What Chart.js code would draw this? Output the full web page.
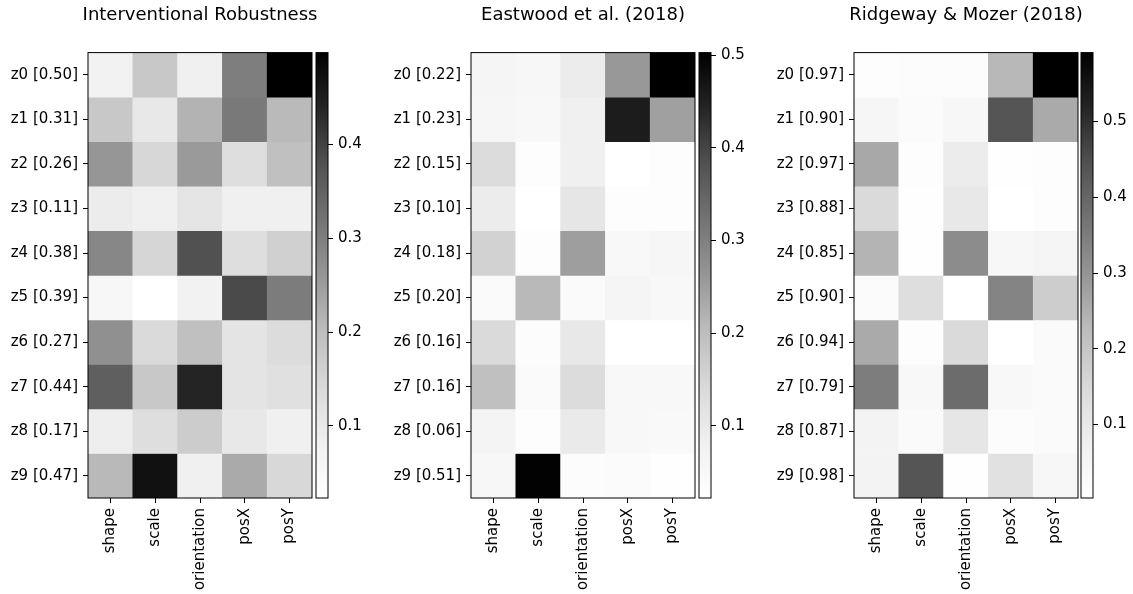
<!DOCTYPE html>
<html>
<head>
<meta charset="utf-8">
<script src="https://cdn.jsdelivr.net/npm/chart.js@4.4.0/dist/chart.umd.min.js"></script>
<style>
  html, body { margin: 0; padding: 0; background: #fff; overflow: hidden; }
  #wrap { position: relative; width: 1133px; height: 594px; }
  canvas { position: absolute; top: 0; }
</style>
</head>
<body>
<div id="wrap">
  <canvas id="heat1" width="400" height="594" style="left:0px"></canvas>
  <canvas id="heat2" width="400" height="594" style="left:383px"></canvas>
  <canvas id="heat3" width="400" height="594" style="left:766px"></canvas>
  <canvas id="bar1" width="70" height="594" style="left:310px"></canvas>
  <canvas id="bar2" width="70" height="594" style="left:693px"></canvas>
  <canvas id="bar3" width="70" height="594" style="left:1075px"></canvas>
</div>
<script>
// factors on the x axis (same for all three panels)
const factors = ['shape', 'scale', 'orientation', 'posX', 'posY']

// Interventional Robustness
const irTitle = 'Interventional Robustness'
const irRows = ['z0 [0.50]', 'z1 [0.31]', 'z2 [0.26]', 'z3 [0.11]', 'z4 [0.38]', 'z5 [0.39]', 'z6 [0.27]', 'z7 [0.44]', 'z8 [0.17]', 'z9 [0.47]']
const irValues = [
  [0.074, 0.177, 0.082, 0.302, 0.498],
  [0.177, 0.102, 0.217, 0.310, 0.205],
  [0.260, 0.146, 0.255, 0.129, 0.195],
  [0.092, 0.082, 0.110, 0.082, 0.082],
  [0.286, 0.148, 0.380, 0.129, 0.160],
  [0.054, 0.023, 0.074, 0.390, 0.305],
  [0.270, 0.139, 0.195, 0.113, 0.134],
  [0.355, 0.177, 0.440, 0.113, 0.123],
  [0.087, 0.129, 0.170, 0.102, 0.082],
  [0.207, 0.470, 0.082, 0.230, 0.143]
]
const irTicks = [0.1, 0.2, 0.3, 0.4]

// Eastwood et al. (2018)
const ewTitle = 'Eastwood et al. (2018)'
const ewRows = ['z0 [0.22]', 'z1 [0.23]', 'z2 [0.15]', 'z3 [0.10]', 'z4 [0.18]', 'z5 [0.20]', 'z6 [0.16]', 'z7 [0.16]', 'z8 [0.06]', 'z9 [0.51]']
const ewValues = [
  [0.062, 0.054, 0.092, 0.259, 0.503],
  [0.058, 0.050, 0.082, 0.457, 0.247],
  [0.134, 0.030, 0.082, 0.022, 0.030],
  [0.092, 0.022, 0.108, 0.030, 0.030],
  [0.157, 0.030, 0.250, 0.050, 0.058],
  [0.042, 0.208, 0.042, 0.062, 0.050],
  [0.139, 0.034, 0.102, 0.022, 0.022],
  [0.196, 0.042, 0.134, 0.050, 0.050],
  [0.066, 0.030, 0.097, 0.050, 0.046],
  [0.054, 0.500, 0.034, 0.038, 0.026]
]
const ewTicks = [0.1, 0.2, 0.3, 0.4, 0.5]

// Ridgeway & Mozer (2018)
const rmTitle = 'Ridgeway & Mozer (2018)'
const rmRows = ['z0 [0.97]', 'z1 [0.90]', 'z2 [0.97]', 'z3 [0.88]', 'z4 [0.85]', 'z5 [0.90]', 'z6 [0.94]', 'z7 [0.79]', 'z8 [0.87]', 'z9 [0.98]']
const rmValues = [
  [0.013, 0.018, 0.018, 0.232, 0.591],
  [0.047, 0.023, 0.043, 0.438, 0.260],
  [0.263, 0.013, 0.090, 0.008, 0.013],
  [0.147, 0.008, 0.102, 0.003, 0.013],
  [0.241, 0.008, 0.318, 0.043, 0.052],
  [0.023, 0.134, 0.003, 0.335, 0.182],
  [0.260, 0.013, 0.147, 0.003, 0.028],
  [0.350, 0.038, 0.387, 0.038, 0.028],
  [0.062, 0.028, 0.109, 0.018, 0.028],
  [0.062, 0.438, 0.008, 0.125, 0.043]
]
const rmTicks = [0.1, 0.2, 0.3, 0.4, 0.5]

const FONT = 'DejaVu Sans'
const TOP = 52.6
const BOTTOM = 96
const SIDE = 88

// matplotlib "Greys" colormap, white -> black
const greysStops = [255, 240, 217, 189, 150, 115, 82, 37, 0]
function greys (t) {
  t = Math.min(Math.max(t, 0), 1) * (greysStops.length - 1)
  const i = Math.min(Math.floor(t), greysStops.length - 2)
  const g = Math.round(greysStops[i] + (greysStops[i + 1] - greysStops[i]) * (t - i))
  return 'rgb(' + g + ',' + g + ',' + g + ')'
}

// black outline round the plot area
const frame = {
  id: 'frame',
  afterDraw (chart) {
    const { ctx, chartArea: a } = chart
    ctx.save()
    ctx.strokeStyle = '#000'
    ctx.lineWidth = 1
    ctx.strokeRect(a.left, a.top, a.width, a.height)
    ctx.restore()
  }
}

Chart.defaults.font.family = FONT
Chart.defaults.color = '#000'

function heatmap (id, title, rows, values) {
  const flat = values.flat()
  const lo = Math.min(...flat)
  const hi = Math.max(...flat)
  const datasets = values.map((row, r) => ({
    data: row.map(() => [r, r + 1]),
    backgroundColor: row.map(v => greys((v - lo) / (hi - lo))),
    borderWidth: 0,
    barPercentage: 1,
    categoryPercentage: 1,
    grouped: false
  }))
  new Chart(document.getElementById(id), {
    type: 'bar',
    data: { labels: factors, datasets: datasets },
    plugins: [frame],
    options: {
      responsive: false,
      animation: false,
      events: [],
      layout: { padding: 0 },
      plugins: {
        legend: { display: false },
        tooltip: { enabled: false },
        title: {
          display: true,
          text: title,
          font: { size: 18, weight: 'normal', family: FONT },
          color: '#000',
          padding: { top: 5, bottom: TOP - 5 - 18 * 1.2 }
        }
      },
      scales: {
        x: {
          type: 'category',
          offset: true,
          ticks: { minRotation: 90, maxRotation: 90, autoSkip: false, padding: 5, font: { size: 15 }, color: '#000' },
          grid: { offset: false, drawOnChartArea: false, tickLength: 5, color: '#000' },
          border: { display: false },
          afterFit: s => { s.height = BOTTOM }
        },
        y: {
          type: 'linear',
          min: 0,
          max: rows.length,
          reverse: true,
          afterBuildTicks: axis => { axis.ticks = rows.map((_, i) => ({ value: i + 0.5 })) },
          ticks: { callback: (v, i) => rows[i], autoSkip: false, padding: 5, font: { size: 15 }, color: '#000' },
          grid: { drawOnChartArea: false, tickLength: 5, color: '#000' },
          border: { display: false },
          afterFit: s => { s.width = SIDE }
        },
        // empty right-hand axis, only keeps the plot centred under the title
        side: {
          type: 'linear',
          position: 'right',
          ticks: { display: false },
          grid: { display: false },
          border: { display: false },
          afterFit: s => { s.width = SIDE }
        }
      }
    }
  })
  return [lo, hi]
}

function colorbar (id, lo, hi, ticks) {
  new Chart(document.getElementById(id), {
    type: 'bar',
    data: {
      labels: [''],
      datasets: [{
        data: [[lo, hi]],
        backgroundColor: ctx => {
          const a = ctx.chart.chartArea
          if (!a) return '#fff'
          const g = ctx.chart.ctx.createLinearGradient(0, a.bottom, 0, a.top)
          greysStops.forEach((_, i) => g.addColorStop(i / 8, greys(i / 8)))
          return g
        },
        borderWidth: 0,
        barPercentage: 1,
        categoryPercentage: 1
      }]
    },
    plugins: [frame],
    options: {
      responsive: false,
      animation: false,
      events: [],
      layout: { padding: { left: 6, right: 0, top: TOP, bottom: BOTTOM } },
      plugins: { legend: { display: false }, tooltip: { enabled: false } },
      scales: {
        x: { display: false },
        y: {
          type: 'linear',
          position: 'right',
          min: lo,
          max: hi,
          afterBuildTicks: axis => { axis.ticks = ticks.map(v => ({ value: v })) },
          ticks: { callback: v => v.toFixed(1), padding: 5, font: { size: 15 }, color: '#000' },
          grid: { drawOnChartArea: false, tickLength: 5, color: '#000' },
          border: { display: false },
          afterFit: s => { s.width = 52 }
        }
      }
    }
  })
}

const r1 = heatmap('heat1', irTitle, irRows, irValues)
const r2 = heatmap('heat2', ewTitle, ewRows, ewValues)
const r3 = heatmap('heat3', rmTitle, rmRows, rmValues)
colorbar('bar1', r1[0], r1[1], irTicks)
colorbar('bar2', r2[0], r2[1], ewTicks)
colorbar('bar3', r3[0], r3[1], rmTicks)
</script>
</body>
</html>
